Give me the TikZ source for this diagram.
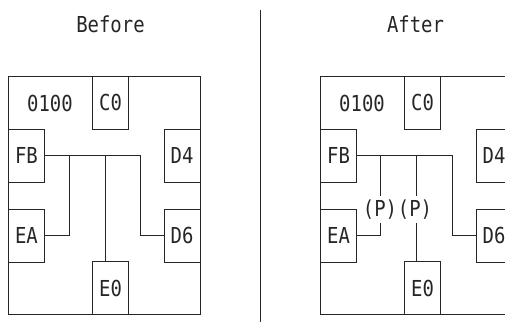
\documentclass[tikz,border=0pt]{standalone}
\usepackage{fontspec}
\setmonofont[FakeStretch=0.86]{DejaVu Sans Mono}
\usetikzlibrary{positioning}

\begin{document}
\begin{tikzpicture}[
  x=1pt, y=-1pt,
  font=\ttfamily\fontsize{22}{22}\selectfont,
  color=black!85, line width=0.9pt,
  cell/.style={draw, inner sep=0pt, minimum width=36pt, minimum height=53pt},
  frame/.style={draw, inner sep=0pt, minimum width=192pt, minimum height=238pt},
  tag/.style={inner sep=0pt, minimum height=27pt}
]
\useasboundingbox (0,0) rectangle (505,322);
\clip (0,0) rectangle (505,322);

% titles and divider
\node[anchor=base] (before) at (110.5,32) {Before};
\node[anchor=base] (after) at (415.5,32) {After};
\coordinate (top) at (260,10);
\coordinate (bot) at (260,322);
\draw (top) -- (bot);

% the two boards
\foreach \p/\dx in {b/0,a/312}{
  \begin{scope}[xshift=\dx]
    \node[frame] (\p frame) at (104,195) {};
    \node at (50,103) {0100};
    \node[cell] (\p c0) at (110.5,102.5) {C0};
    \node[cell] (\p fb) at (26.5,155.5) {FB};
    \node[cell] (\p d4) at (182,155.5) {D4};
    \node[cell] (\p ea) at (26.5,235.5) {EA};
    \node[cell] (\p d6) at (182,235.5) {D6};
    \node[cell] (\p e0) at (110.5,288) {E0};
  \end{scope}
}

% before: wiring
\coordinate (bj1) at (69,155.5);
\coordinate (bj2) at (105,155.5);
\coordinate (bj3) at (140,155.5);
\draw (bfb.east) -- (bj3) |- (bd6.west);
\draw (bea.east) -| (bj1);
\draw (bj2) -- (bj2 |- be0.north);

% after: wiring with (P) breaks
\coordinate (aj1) at (380,155.5);
\coordinate (aj2) at (416,155.5);
\coordinate (aj3) at (452,155.5);
\node[tag] (ap1) at (380,209.5) {(P)};
\node[tag] (ap2) at (415,209.5) {(P)};
\draw (afb.east) -- (aj3) |- (ad6.west);
\draw (aj1) -- (aj1 |- ap1.north);
\draw (aj1 |- ap1.south) |- (aea.east);
\draw (aj2) -- (aj2 |- ap2.north);
\draw (aj2 |- ap2.south) -- (aj2 |- ae0.north);
\end{tikzpicture}
\end{document}
